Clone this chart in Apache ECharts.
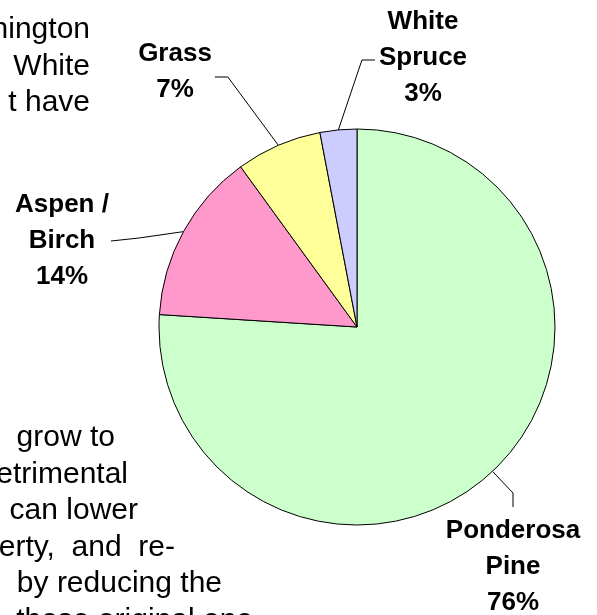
<!DOCTYPE html>
<html><head><meta charset="utf-8">
<script src="https://cdn.jsdelivr.net/npm/echarts@6/dist/echarts.min.js"></script>
<style>html,body{margin:0;padding:0;background:#fff}#c{width:597px;height:615px}</style>
</head><body><div id="c"></div>
<script>
// ---- data ----
const categories = ['Ponderosa\nPine', 'Aspen /\nBirch', 'Grass', 'White\nSpruce'];
const shares = [76, 14, 7, 3];
const sliceColors = ['#CCFFCC', '#FF99CC', '#FFFF99', '#CCCCFF'];
// surrounding document text (cut off by the page edge)
const docTextTop = ['hington', 'White', 't have'];
const docTextBottom = ['grow to', 'etrimental', 'can lower', 'erty,  and  re-', 'by reducing the', 'those original one'];

// ---- layout (positions / styles only) ----
const docTopRight = 90, docTopY0 = 30, docPitch = 36.5;
const docBottomRight = [115, 128, 138, 175, 222, 253];
const docBottomY0 = 438;
const labelSpots = [
  {x: 513, y: 567, side: 'top', bend: [0, -14], gap: 6, dy: 0},
  {x: 62, y: 241, side: 'right', bend: [28, -3], gap: 2, dy: 0},
  {x: 175, y: 72, side: 'right', bend: [13, 0], gap: 3, dy: 5},
  {x: 423, y: 58, side: 'left', bend: [-13, 0], gap: 4, dy: 2}
];

const docFont = '30px "Liberation Sans", Arial, sans-serif';
const graphics = [];
docTextTop.forEach((t, i) => graphics.push({
  type: 'text', x: docTopRight, y: docTopY0 + i * docPitch, silent: true,
  style: {text: t, font: docFont, fill: '#000', textAlign: 'right', textVerticalAlign: 'middle'}
}));
docTextBottom.forEach((t, i) => graphics.push({
  type: 'text', x: docBottomRight[i], y: docBottomY0 + i * docPitch, silent: true,
  style: {text: t, font: docFont, fill: '#000', textAlign: 'right', textVerticalAlign: 'middle'}
}));

const chart = echarts.init(document.getElementById('c'), null, {renderer: 'canvas'});
chart.setOption({
  animation: false,
  backgroundColor: '#fff',
  graphic: graphics,
  series: [{
    type: 'pie',
    center: [357, 327],
    radius: 198,
    startAngle: 90,
    clockwise: true,
    avoidLabelOverlap: false,
    data: categories.map((c, i) => ({name: c, value: shares[i], itemStyle: {color: sliceColors[i]}})),
    itemStyle: {borderColor: '#000', borderWidth: 1},
    label: {
      show: true, position: 'outside',
      formatter: p => p.name + '\n' + Math.round(p.percent) + '%',
      color: '#000', fontWeight: 'bold', fontSize: 26, lineHeight: 36,
      fontFamily: '"Liberation Sans", Arial, sans-serif', align: 'center'
    },
    labelLine: {show: true, length: 10, length2: 10, smooth: false, lineStyle: {color: '#000', width: 1}},
    emphasis: {disabled: true},
    labelLayout: function (params) {
      const s = labelSpots[params.dataIndex];
      const w = params.labelRect.width, h = params.labelRect.height;
      let end;
      if (s.side === 'top') end = [s.x, s.y - h / 2 - s.gap];
      else if (s.side === 'right') end = [s.x + w / 2 + s.gap, s.y + s.dy];
      else end = [s.x - w / 2 - s.gap, s.y + s.dy];
      const bend = [end[0] + s.bend[0], end[1] + s.bend[1]];
      const out = {x: s.x, y: s.y, align: 'center', verticalAlign: 'middle'};
      if (params.labelLinePoints) out.labelLinePoints = [params.labelLinePoints[0], bend, end];
      return out;
    }
  }]
});
</script>
</body></html>
